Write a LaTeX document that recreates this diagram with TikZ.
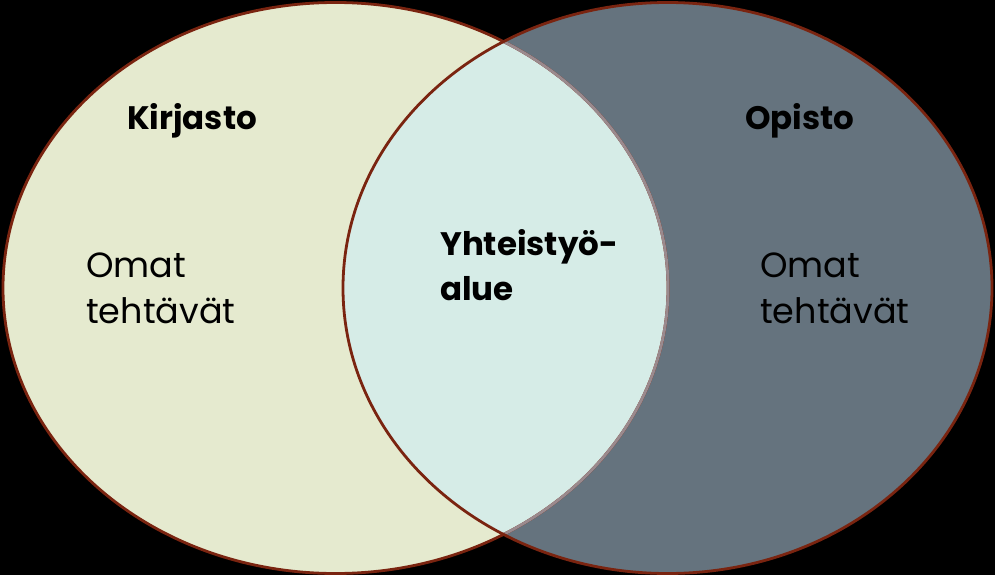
\documentclass[tikz,border=0pt]{standalone}
\usepackage{fontspec}
\setmainfont{Poppins}
\definecolor{cream}{HTML}{E5EACF}
\definecolor{slate}{HTML}{65737E}
\definecolor{mint}{HTML}{D6ECE7}
\definecolor{rim}{HTML}{7A2410}
\definecolor{rimgrey}{HTML}{9A8A8E}
\tikzset{
  rimline/.style={draw=rim, line width=2.8pt},
  headlabel/.style={inner sep=0pt, anchor=base west, align=left, font=\bfseries\fontsize{32.5}{45}\selectfont},
  bodylabel/.style={inner sep=0pt, anchor=base west, align=left, font=\fontsize{35}{46}\selectfont},
}
\begin{document}
\begin{tikzpicture}[x=1pt,y=-1pt]
\useasboundingbox (0,0) rectangle (995,575);
\fill[black] (0,0) rectangle (995,575);
\def\leftell{(335.5,288) ellipse [x radius=332.5, y radius=285.5]}
\def\rightell{(667.5,288) ellipse [x radius=324.5, y radius=285.5]}
\fill[cream] \leftell;
\fill[slate] \rightell;
\begin{scope}
  \clip \leftell;
  \fill[mint] \rightell;
\end{scope}
\draw[rimline] \leftell;
\begin{scope}
  \clip \rightell;
  \draw[draw=rimgrey, line width=2.8pt] \leftell;
\end{scope}
\draw[rimline] \rightell;
\node[headlabel] (kirjasto) at (127,129) {Kirjasto};
\node[headlabel] (opisto) at (745,129) {Opisto};
\node[headlabel] (yhteis) at (440,300) {Yhteistyö-\\alue};
\node[bodylabel] (omatL) at (86,323) {Omat\\tehtävät};
\node[bodylabel] (omatR) at (760,323) {Omat\\tehtävät};
\end{tikzpicture}
\end{document}
